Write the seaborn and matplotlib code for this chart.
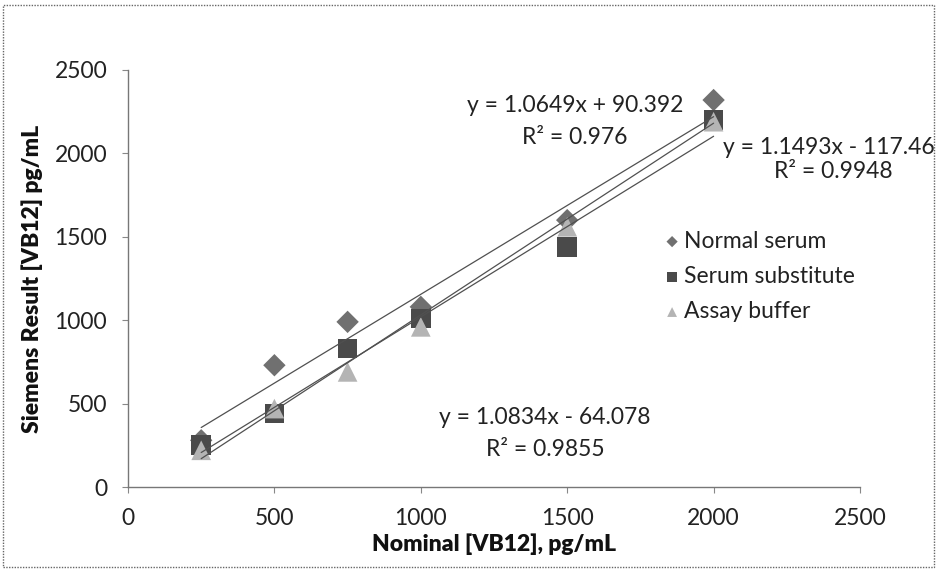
import numpy as np
import pandas as pd
import matplotlib
matplotlib.use("Agg")
import matplotlib.pyplot as plt
import seaborn as sns
from matplotlib.patches import Rectangle

# ---- data ----
nominal = [250, 500, 750, 1000, 1500, 2000]
normal_serum = [280, 730, 990, 1080, 1600, 2320]
serum_substitute = [250, 440, 830, 1010, 1440, 2200]
assay_buffer = [220, 470, 690, 960, 1560, 2190]

series_names = ["Normal serum", "Serum substitute", "Assay buffer"]
slopes = [1.0649, 1.1493, 1.0834]
intercepts = [90.392, -117.46, -64.078]
eq_labels = ["y = 1.0649x + 90.392", "y = 1.1493x - 117.46", "y = 1.0834x - 64.078"]
r2_labels = ["R\u00b2 = 0.976", "R\u00b2 = 0.9948", "R\u00b2 = 0.9855"]

x_ticks = [0, 500, 1000, 1500, 2000, 2500]
y_ticks = [0, 500, 1000, 1500, 2000, 2500]

df = pd.DataFrame({
    "Nominal": nominal * 3,
    "Result": normal_serum + serum_substitute + assay_buffer,
    "Series": sum([[n] * len(nominal) for n in series_names], []),
})

sns.set_theme(style="white")
plt.rcParams["font.family"] = ["Lato", "DejaVu Sans"]

FS = 16.5

fig = plt.figure(figsize=(9.36, 5.72), dpi=100)
ax = fig.add_axes([128 / 936, 1 - 487 / 572, 732 / 936, 417 / 572])

palette = {"Normal serum": "#707070", "Serum substitute": "#4a4a4a", "Assay buffer": "#b4b4b4"}
markers = {"Normal serum": "D", "Serum substitute": "s", "Assay buffer": "^"}
sizes_map = {"Normal serum": 130, "Serum substitute": 200, "Assay buffer": 200}

for name in series_names:
    sub = df[df["Series"] == name]
    sns.scatterplot(data=sub, x="Nominal", y="Result", marker=markers[name],
                    color=palette[name], s=sizes_map[name], edgecolor="none",
                    ax=ax, label=name, zorder=3)

# trend lines from stated equations
for name, m, b in zip(series_names, slopes, intercepts):
    xs = np.array([min(nominal), max(nominal)])
    line_df = pd.DataFrame({"x": xs, "y": m * xs + b})
    sns.lineplot(data=line_df, x="x", y="y", color="#505050", lw=0.9,
                 ax=ax, zorder=4, legend=False)

ax.set_xlim(0, 2500)
ax.set_ylim(0, 2500)
ax.set_xticks(x_ticks)
ax.set_yticks(y_ticks)
ax.set_xticklabels([str(t) for t in x_ticks], fontsize=FS, color="#222222")
ax.set_yticklabels([str(t) for t in y_ticks], fontsize=FS, color="#222222")
ax.tick_params(axis="both", which="major", length=4, width=0.8, color="#888888",
               direction="out", bottom=True, left=True, pad=11)
ax.set_xlabel("Nominal [VB12], pg/mL", fontsize=FS, fontweight="heavy", color="#111111", labelpad=3)
ax.set_ylabel("Siemens Result [VB12] pg/mL", fontsize=FS, fontweight="heavy", color="#111111", labelpad=8)

for side in ["top", "right"]:
    ax.spines[side].set_visible(False)
for side in ["left", "bottom"]:
    ax.spines[side].set_linestyle((0, (1, 1)))
    ax.spines[side].set_color("#777777")
    ax.spines[side].set_linewidth(1.0)

# equation labels
txt_kw = dict(va="center", fontsize=FS, color="#222222")
fig.text(575 / 936, 1 - 105 / 572, eq_labels[0], ha="center", **txt_kw)
fig.text(575 / 936, 1 - 137 / 572, r2_labels[0], ha="center", **txt_kw)
fig.text(723 / 936, 1 - 147 / 572, eq_labels[1], ha="left", **txt_kw)
fig.text(833 / 936, 1 - 171 / 572, r2_labels[1], ha="center", **txt_kw)
fig.text(545 / 936, 1 - 418 / 572, eq_labels[2], ha="center", **txt_kw)
fig.text(545 / 936, 1 - 450 / 572, r2_labels[2], ha="center", **txt_kw)

leg = ax.legend(loc="upper left", bbox_to_anchor=(640 / 936, 1 - 210 / 572),
                bbox_transform=fig.transFigure, frameon=False, fontsize=FS,
                labelspacing=0.62, handletextpad=0.0, handlelength=1.0,
                markerscale=0.5)
for t in leg.get_texts():
    t.set_color("#222222")

# outer dotted border
fig.patches.append(Rectangle((3 / 936, 5 / 572), 931 / 936, 562 / 572,
                             transform=fig.transFigure, fill=False,
                             edgecolor="#666666", linestyle=(0, (1, 1)), lw=1.0))

fig.savefig("out.png", dpi=100)
